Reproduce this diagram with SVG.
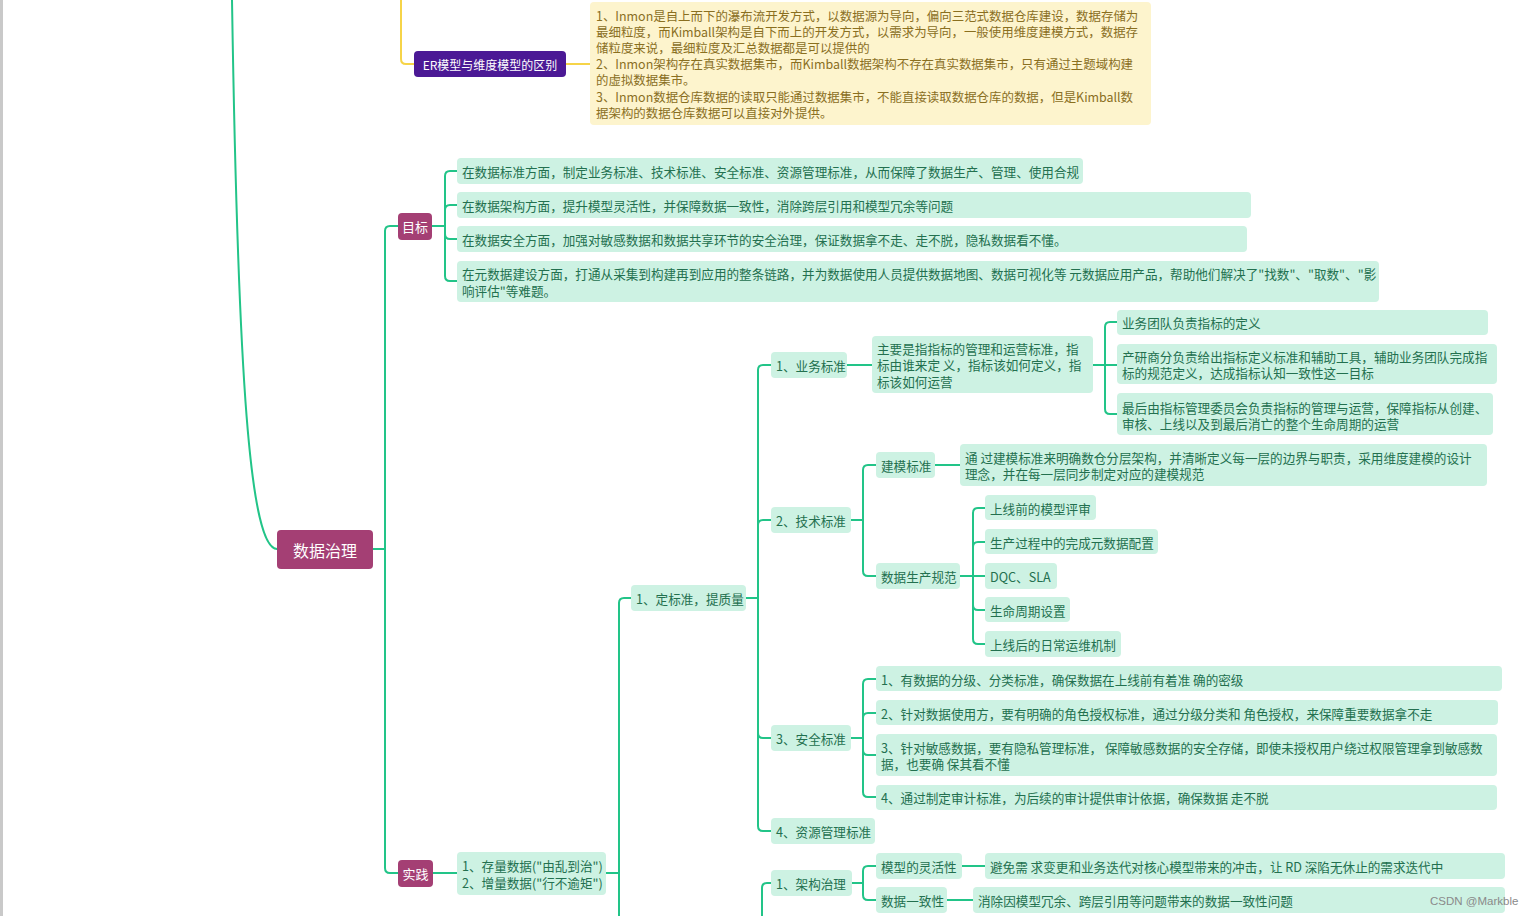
<svg xmlns="http://www.w3.org/2000/svg" width="1539" height="916" viewBox="0 0 1539 916">
<style>
.bg{fill:#ffffff}
.ln{fill:none;stroke:#22c488;stroke-width:2;stroke-linecap:round}
.yl{fill:none;stroke:#f6d448;stroke-width:2;stroke-linecap:round}
.g rect{fill:#cdf2e3}
.g text{fill:#23704f;font-family:"Noto Sans CJK SC","Noto Sans",sans-serif;font-size:12.6px;dominant-baseline:central}
.m rect{fill:#a43f74}
.m text{fill:#ffffff;font-family:"Noto Sans CJK SC","Noto Sans",sans-serif;font-size:13px;dominant-baseline:central;text-anchor:middle}
.p rect{fill:#4b1995}
.p text{fill:#ffffff;font-family:"Noto Sans CJK SC","Noto Sans",sans-serif;font-size:12px;dominant-baseline:central;text-anchor:middle}
.y rect{fill:#fdf4cd}
.y text{fill:#8a6f1f;font-family:"Noto Sans CJK SC","Noto Sans",sans-serif;font-size:12.45px;dominant-baseline:central}
.wm{fill:#8a8a8a;font-family:"Liberation Sans","Noto Sans",sans-serif;font-size:11.5px;dominant-baseline:central}
</style>
<rect class="bg" x="0" y="0" width="1539" height="916"/>
<rect x="0" y="0" width="3" height="916" fill="#c9c9c9"/>
<g id="connectors">
<path class="ln" d="M232 0 C238 380 250 548 277 549"/>
<path class="yl" d="M401 0 V59 Q401 64 406 64 H414"/>
<path class="yl" d="M566 64 H590"/>
<path class="ln" d="M373 549 H385"/>
<path class="ln" d="M385 549 V231 Q385 226 390 226 H398"/>
<path class="ln" d="M385 549 V868 Q385 873 390 873 H398"/>
<path class="ln" d="M432 226 H445"/>
<path class="ln" d="M445 226 V176 Q445 171 450 171 H457"/>
<path class="ln" d="M445 226 V210 Q445 205 450 205 H457"/>
<path class="ln" d="M445 226 V234 Q445 239 450 239 H457"/>
<path class="ln" d="M445 226 V276 Q445 281 450 281 H457"/>
<path class="ln" d="M433 873 H457"/>
<path class="ln" d="M606 873 H619"/>
<path class="ln" d="M619 873 V603 Q619 598 624 598 H631"/>
<path class="ln" d="M619 873 V916"/>
<path class="ln" d="M746 598 H758"/>
<path class="ln" d="M758 598 V370 Q758 365 763 365 H771"/>
<path class="ln" d="M758 598 V525 Q758 520 763 520 H771"/>
<path class="ln" d="M758 598 V733 Q758 738 763 738 H771"/>
<path class="ln" d="M758 598 V826 Q758 831 763 831 H771"/>
<path class="ln" d="M847 365 H872"/>
<path class="ln" d="M1093 365 H1105"/>
<path class="ln" d="M1105 365 V327 Q1105 322 1110 322 H1117"/>
<path class="ln" d="M1105 365 H1117"/>
<path class="ln" d="M1105 365 V409 Q1105 414 1110 414 H1117"/>
<path class="ln" d="M851 520 H863"/>
<path class="ln" d="M863 520 V470 Q863 465 868 465 H876"/>
<path class="ln" d="M863 520 V571 Q863 576 868 576 H876"/>
<path class="ln" d="M935 465 H960"/>
<path class="ln" d="M960 576 H973"/>
<path class="ln" d="M973 576 V513 Q973 508 978 508 H985"/>
<path class="ln" d="M973 576 V547 Q973 542 978 542 H985"/>
<path class="ln" d="M973 576 H985"/>
<path class="ln" d="M973 576 V605 Q973 610 978 610 H985"/>
<path class="ln" d="M973 576 V639 Q973 644 978 644 H985"/>
<path class="ln" d="M851 738 H863"/>
<path class="ln" d="M863 738 V684 Q863 679 868 679 H876"/>
<path class="ln" d="M863 738 V718 Q863 713 868 713 H876"/>
<path class="ln" d="M863 738 V750 Q863 755 868 755 H876"/>
<path class="ln" d="M863 738 V792 Q863 797 868 797 H876"/>
<path class="ln" d="M762 916 V888 Q762 883 767 883 H771"/>
<path class="ln" d="M852 883 H863"/>
<path class="ln" d="M863 883 V871 Q863 866 868 866 H876"/>
<path class="ln" d="M863 883 V895 Q863 900 868 900 H876"/>
<path class="ln" d="M962 866 H985"/>
<path class="ln" d="M947 900 H973"/>
</g>
<g id="root" class="m"><rect x="277" y="530" width="96" height="39" rx="4"/><text x="325" y="550" style="font-size:16px">数据治理</text></g>
<g id="er" class="p"><rect x="414" y="51" width="152" height="26" rx="4"/><text x="490" y="64">ER模型与维度模型的区别</text></g>
<g id="er-note" class="y"><rect x="590" y="2" width="561" height="123" rx="4"/>
<text x="596" y="16">1、Inmon是自上而下的瀑布流开发方式，以数据源为导向，偏向三范式数据仓库建设，数据存储为</text>
<text x="596" y="32">最细粒度，而Kimball架构是自下而上的开发方式，以需求为导向，一般使用维度建模方式，数据存</text>
<text x="596" y="48">储粒度来说，最细粒度及汇总数据都是可以提供的</text>
<text x="596" y="64">2、Inmon架构存在真实数据集市，而Kimball数据架构不存在真实数据集市，只有通过主题域构建</text>
<text x="596" y="80">的虚拟数据集市。</text>
<text x="596" y="97">3、Inmon数据仓库数据的读取只能通过数据集市，不能直接读取数据仓库的数据，但是Kimball数</text>
<text x="596" y="113">据架构的数据仓库数据可以直接对外提供。</text>
</g>
<g id="goal" class="m"><rect x="398" y="213" width="34" height="27" rx="4"/><text x="415" y="226">目标</text></g>
<g id="goal1" class="g"><rect x="457" y="158" width="626" height="26" rx="4"/><text x="462" y="171">在数据标准方面，制定业务标准、技术标准、安全标准、资源管理标准，从而保障了数据生产、管理、使用合规</text></g>
<g id="goal2" class="g"><rect x="457" y="192" width="794" height="26" rx="4"/><text x="462" y="205">在数据架构方面，提升模型灵活性，并保障数据一致性，消除跨层引用和模型冗余等问题</text></g>
<g id="goal3" class="g"><rect x="457" y="226" width="790" height="26" rx="4"/><text x="462" y="239">在数据安全方面，加强对敏感数据和数据共享环节的安全治理，保证数据拿不走、走不脱，隐私数据看不懂。</text></g>
<g id="goal4" class="g"><rect x="457" y="261" width="922" height="41" rx="4"/><text x="462" y="273">在元数据建设方面，打通从采集到构建再到应用的整条链路，并为数据使用人员提供数据地图、数据可视化等 元数据应用产品，帮助他们解决了"找数"、"取数"、"影</text><text x="462" y="290">响评估"等难题。</text></g>
<g id="practice" class="m"><rect x="398" y="860" width="35" height="27" rx="4"/><text x="415.5" y="873">实践</text></g>
<g id="practice-items" class="g"><rect x="457" y="852" width="149" height="43" rx="4"/><text x="462" y="865">1、存量数据("由乱到治")</text><text x="462" y="882">2、增量数据("行不逾矩")</text></g>
<g id="std" class="g"><rect x="631" y="585" width="115" height="26" rx="4"/><text x="636" y="598">1、定标准，提质量</text></g>
<g id="biz" class="g"><rect x="771" y="352" width="76" height="26" rx="4"/><text x="776" y="365">1、业务标准</text></g>
<g id="biz-desc" class="g"><rect x="872" y="336" width="221" height="57" rx="4"/><text x="877" y="348">主要是指指标的管理和运营标准，指</text><text x="877" y="364">标由谁来定 义，指标该如何定义，指</text><text x="877" y="381">标该如何运营</text></g>
<g id="biz1" class="g"><rect x="1117" y="310" width="371" height="25" rx="4"/><text x="1122" y="322">业务团队负责指标的定义</text></g>
<g id="biz2" class="g"><rect x="1117" y="344" width="380" height="40" rx="4"/><text x="1122" y="356">产研商分负责给出指标定义标准和辅助工具，辅助业务团队完成指</text><text x="1122" y="372">标的规范定义，达成指标认知一致性这一目标</text></g>
<g id="biz3" class="g"><rect x="1117" y="393" width="376" height="42" rx="4"/><text x="1122" y="407">最后由指标管理委员会负责指标的管理与运营，保障指标从创建、</text><text x="1122" y="423">审核、上线以及到最后消亡的整个生命周期的运营</text></g>
<g id="tech" class="g"><rect x="771" y="507" width="80" height="26" rx="4"/><text x="776" y="520">2、技术标准</text></g>
<g id="model-std" class="g"><rect x="876" y="452" width="59" height="26" rx="4"/><text x="881" y="465">建模标准</text></g>
<g id="model-desc" class="g"><rect x="960" y="444" width="527" height="42" rx="4"/><text x="965" y="457">通 过建模标准来明确数仓分层架构，并清晰定义每一层的边界与职责，采用维度建模的设计</text><text x="965" y="473">理念，并在每一层同步制定对应的建模规范</text></g>
<g id="prod-std" class="g"><rect x="876" y="563" width="84" height="26" rx="4"/><text x="881" y="576">数据生产规范</text></g>
<g id="prod1" class="g"><rect x="985" y="495" width="111" height="25" rx="4"/><text x="990" y="508">上线前的模型评审</text></g>
<g id="prod2" class="g"><rect x="985" y="529" width="173" height="25" rx="4"/><text x="990" y="542">生产过程中的完成元数据配置</text></g>
<g id="prod3" class="g"><rect x="985" y="563" width="72" height="26" rx="4"/><text x="990" y="576">DQC、SLA</text></g>
<g id="prod4" class="g"><rect x="985" y="597" width="85" height="25" rx="4"/><text x="990" y="610">生命周期设置</text></g>
<g id="prod5" class="g"><rect x="985" y="631" width="136" height="26" rx="4"/><text x="990" y="644">上线后的日常运维机制</text></g>
<g id="sec" class="g"><rect x="771" y="725" width="80" height="26" rx="4"/><text x="776" y="738">3、安全标准</text></g>
<g id="sec1" class="g"><rect x="876" y="666" width="626" height="25" rx="4"/><text x="881" y="679">1、有数据的分级、分类标准，确保数据在上线前有着准 确的密级</text></g>
<g id="sec2" class="g"><rect x="876" y="700" width="622" height="25" rx="4"/><text x="881" y="713">2、针对数据使用方，要有明确的角色授权标准，通过分级分类和 角色授权，来保障重要数据拿不走</text></g>
<g id="sec3" class="g"><rect x="876" y="734" width="621" height="42" rx="4"/><text x="881" y="747">3、针对敏感数据，要有隐私管理标准， 保障敏感数据的安全存储，即使未授权用户绕过权限管理拿到敏感数</text><text x="881" y="763">据，也要确 保其看不懂</text></g>
<g id="sec4" class="g"><rect x="876" y="785" width="621" height="25" rx="4"/><text x="881" y="797">4、通过制定审计标准，为后续的审计提供审计依据，确保数据 走不脱</text></g>
<g id="res" class="g"><rect x="771" y="818" width="104" height="26" rx="4"/><text x="776" y="831">4、资源管理标准</text></g>
<g id="arch" class="g"><rect x="771" y="870" width="81" height="26" rx="4"/><text x="776" y="883">1、架构治理</text></g>
<g id="flex" class="g"><rect x="876" y="853" width="86" height="26" rx="4"/><text x="881" y="866">模型的灵活性</text></g>
<g id="flex-desc" class="g"><rect x="985" y="853" width="520" height="26" rx="4"/><text x="990" y="866">避免需 求变更和业务迭代对核心模型带来的冲击，让 RD 深陷无休止的需求迭代中</text></g>
<g id="cons" class="g"><rect x="876" y="887" width="71" height="26" rx="4"/><text x="881" y="900">数据一致性</text></g>
<g id="cons-desc" class="g"><rect x="973" y="887" width="532" height="26" rx="4"/><text x="978" y="900">消除因模型冗余、跨层引用等问题带来的数据一致性问题</text></g>
<text class="wm" x="1430" y="901">CSDN @Markble</text>
</svg>
